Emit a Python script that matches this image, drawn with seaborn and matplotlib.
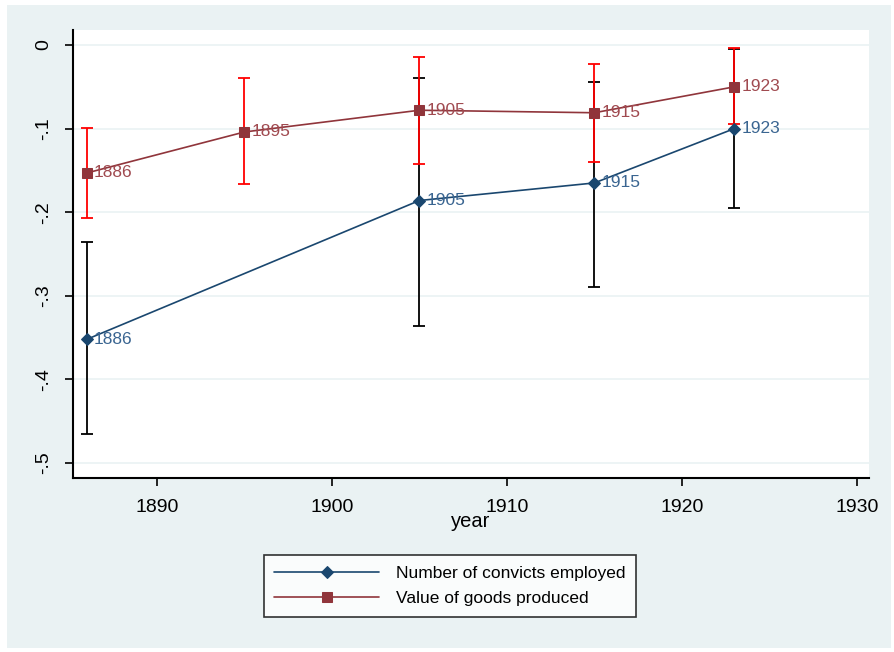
import numpy as np
import pandas as pd
import matplotlib
matplotlib.use("Agg")
import matplotlib.pyplot as plt
import seaborn as sns
from matplotlib.patches import Rectangle

# data
years_conv = [1886, 1905, 1915, 1923]
coef_conv = [-0.352, -0.186, -0.165, -0.100]
lo_conv = [-0.465, -0.336, -0.289, -0.195]
hi_conv = [-0.236, -0.039, -0.044, -0.005]

years_val = [1886, 1895, 1905, 1915, 1923]
coef_val = [-0.153, -0.104, -0.078, -0.081, -0.050]
lo_val = [-0.207, -0.166, -0.142, -0.140, -0.095]
hi_val = [-0.099, -0.039, -0.014, -0.023, -0.004]

x_ticks = [1890, 1900, 1910, 1920, 1930]
y_ticks = [0, -0.1, -0.2, -0.3, -0.4, -0.5]
y_ticklabels = ["0", "-.1", "-.2", "-.3", "-.4", "-.5"]

NAVY = "#1A476F"
MAROON = "#90353B"
BG = "#EAF2F3"

sns.set_theme(style="white")
plt.rcParams["font.family"] = ["Liberation Sans", "DejaVu Sans"]
for k in ["text.color", "axes.labelcolor", "xtick.color", "ytick.color"]:
    plt.rcParams[k] = "black"

df_conv = pd.DataFrame({"year": years_conv, "coef": coef_conv})
df_val = pd.DataFrame({"year": years_val, "coef": coef_val})

fig = plt.figure(figsize=(8.95, 6.52), dpi=100, facecolor="white")
fig.patches.append(Rectangle((7 / 895, 1 - 648 / 652), 884 / 895, 643 / 652,
                             transform=fig.transFigure, facecolor=BG,
                             edgecolor="none", zorder=-10))
W, H = 895, 652
ax = fig.add_axes([73 / W, 1 - 478 / H, (869 - 73) / W, (478 - 30) / H])
ax.set_facecolor("white")

# grid
for yv in y_ticks:
    ax.axhline(yv, color=BG, lw=1.2, zorder=0)

# error bars (convicts first, value on top)
ax.errorbar(years_conv, coef_conv,
            yerr=[np.array(coef_conv) - np.array(lo_conv), np.array(hi_conv) - np.array(coef_conv)],
            fmt="none", ecolor="black", elinewidth=1.3, capsize=4, capthick=1.3, zorder=2)
ax.errorbar(years_val, coef_val,
            yerr=[np.array(coef_val) - np.array(lo_val), np.array(hi_val) - np.array(coef_val)],
            fmt="none", ecolor="#FF0000", elinewidth=1.3, capsize=4, capthick=1.3, zorder=3)

sns.lineplot(data=df_conv, x="year", y="coef", ax=ax, color=NAVY, lw=1.2,
             marker="D", markersize=6.5, markeredgecolor=NAVY,
             label="Number of convicts employed", zorder=4)
sns.lineplot(data=df_val, x="year", y="coef", ax=ax, color=MAROON, lw=1.2,
             marker="s", markersize=6.5, markeredgecolor=MAROON,
             label="Value of goods produced", zorder=4)

for yr, c in zip(years_conv, coef_conv):
    ax.annotate(str(yr), (yr, c), xytext=(5, 0), textcoords="offset points",
                va="center", ha="left", fontsize=12.5, color="#3A6591", zorder=5)
for yr, c in zip(years_val, coef_val):
    ax.annotate(str(yr), (yr, c), xytext=(5, 0), textcoords="offset points",
                va="center", ha="left", fontsize=12.5, color="#A04A50", zorder=5)

ax.set_xlim(1885.2, 1930.7)
ax.set_ylim(-0.518, 0.018)
ax.set_xticks(x_ticks)
ax.set_xticklabels([str(t) for t in x_ticks], fontsize=14)
ax.set_yticks(y_ticks)
ax.set_yticklabels(y_ticklabels, fontsize=14, rotation=90, va="center")
ax.tick_params(axis="both", direction="out", length=6, width=1.2, color="black",
               bottom=True, left=True)
ax.tick_params(axis="x", pad=9)
ax.tick_params(axis="y", pad=9)
ax.set_xlabel("year", fontsize=14.5, labelpad=-3)
ax.set_ylabel("")

for side in ["top", "right"]:
    ax.spines[side].set_visible(False)
for side in ["left", "bottom"]:
    ax.spines[side].set_color("black")
    ax.spines[side].set_linewidth(1.5)

leg = ax.legend(loc="center", bbox_to_anchor=(450 / W, 1 - 586 / H),
                bbox_transform=fig.transFigure, frameon=True, fancybox=False,
                fontsize=12.5, handlelength=6, borderpad=0.6, labelspacing=0.6,
                handletextpad=1.0)
leg.get_frame().set_edgecolor("black")
leg.get_frame().set_linewidth(1.2)
leg.get_frame().set_facecolor("white")

fig.savefig("out.png", dpi=100, facecolor=fig.get_facecolor())
